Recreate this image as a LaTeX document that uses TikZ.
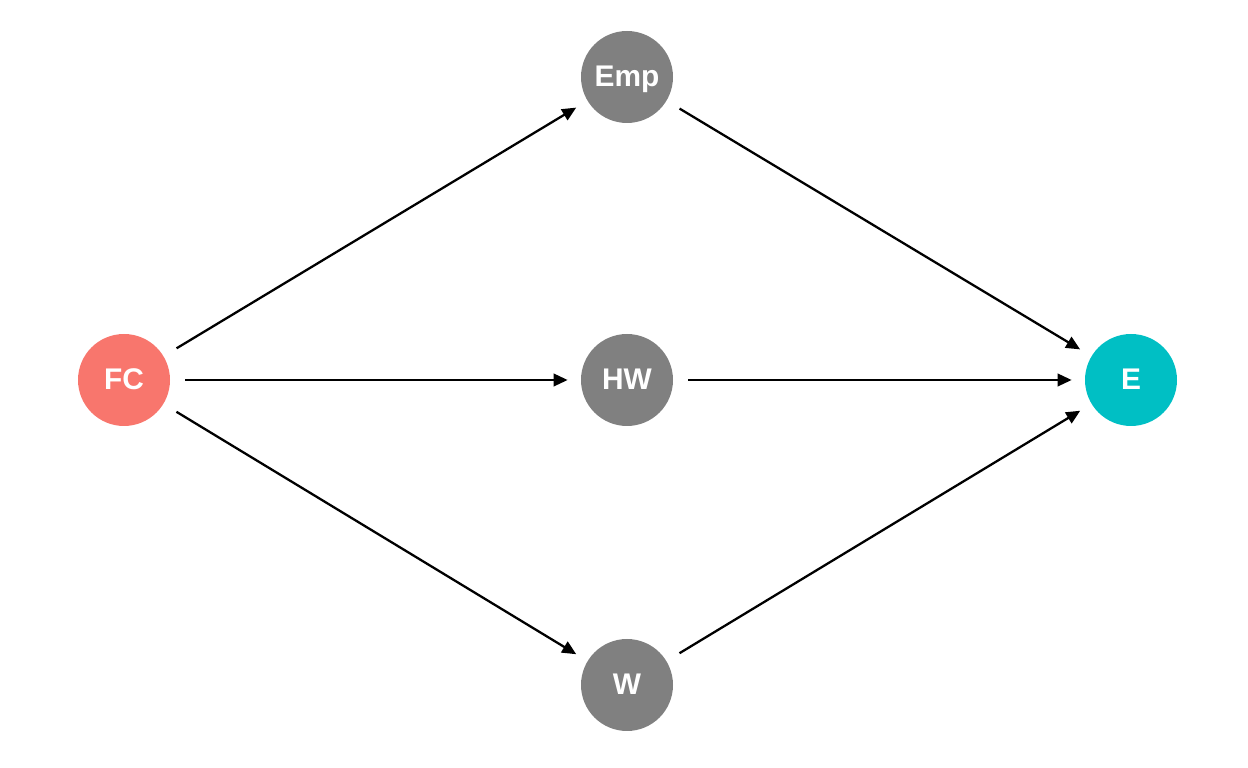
\documentclass[tikz,border=0pt]{standalone}
\usepackage{fontspec}
\setmainfont{Liberation Sans}
\usetikzlibrary{arrows.meta}

\definecolor{fcred}{HTML}{F8766D}
\definecolor{eteal}{HTML}{00BFC4}
\definecolor{midgray}{HTML}{808080}

\tikzset{
    var/.style={circle, fill=midgray, minimum size=1.84cm, inner sep=0pt, text=white, text height=11pt, text depth=0pt, font=\fontsize{17}{20}\selectfont\bfseries},
    path/.style={-{Triangle[length=0.28cm, width=0.25cm]}, line width=1.3pt, shorten <=0.3cm, shorten >=0.26cm}
}

\begin{document}
\begin{tikzpicture}
    \useasboundingbox (0,0) rectangle (24.96,15.36);

    \node[var, fill=fcred](fc) at (2.48,7.76){FC};
    \node[var](emp) at (12.54,13.82){Emp};
    \node[var](hw) at (12.54,7.76){HW};
    \node[var](w) at (12.54,1.66){W};
    \node[var, fill=eteal](e) at (22.62,7.76){E};

    \draw[path] (fc) -- (emp);
    \draw[path] (fc) -- (hw);
    \draw[path] (fc) -- (w);
    \draw[path] (emp) -- (e);
    \draw[path] (hw) -- (e);
    \draw[path] (w) -- (e);
\end{tikzpicture}
\end{document}
